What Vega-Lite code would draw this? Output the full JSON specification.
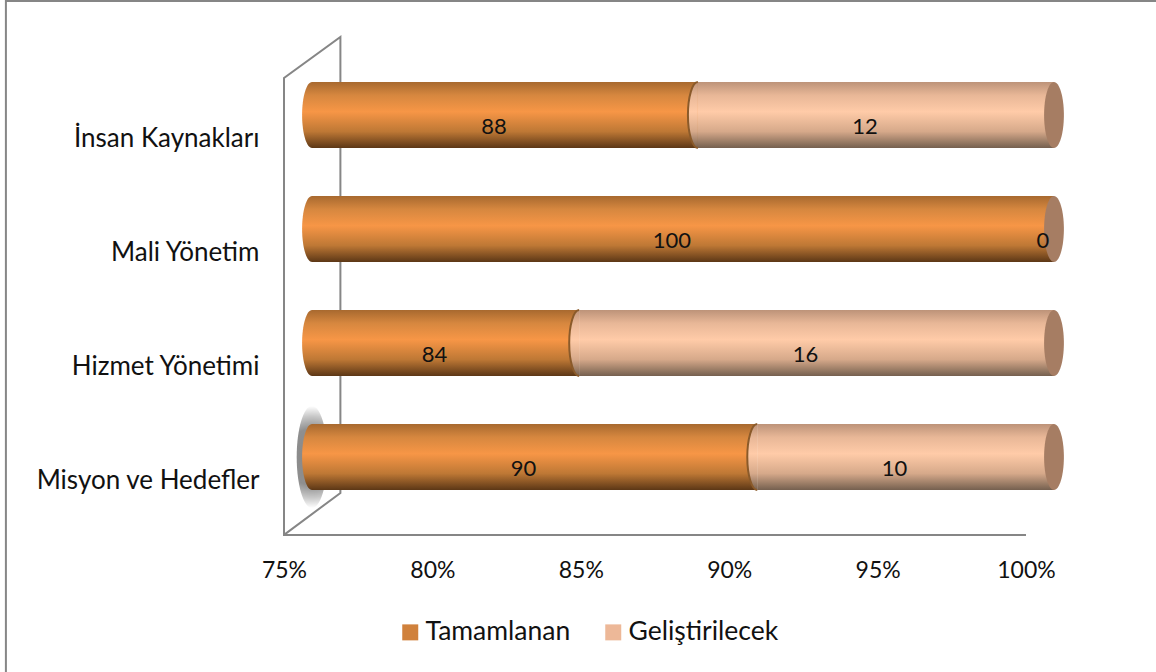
{
"$schema":"https://vega.github.io/schema/vega-lite/v6.json",
"width":1156,"height":672,"padding":0,"autosize":{"type":"none"},
"background":"white",
"config":{"view":{"stroke":null},"font":"Lato"},
"layer":[
{"data":{"values":[
{"path":"frame","o":1,"x":104.38,"y":116.85},{"path":"frame","o":2,"x":65.63,"y":116.85},{"path":"frame","o":3,"x":65.63,"y":-30},
{"path":"floor","o":1,"x":100,"y":0},{"path":"floor","o":2,"x":75,"y":0},{"path":"floor","o":3,"x":75,"y":100},{"path":"floor","o":4,"x":76.9,"y":108.97},{"path":"floor","o":5,"x":76.9,"y":9.19},{"path":"floor","o":6,"x":75,"y":0}
]},
"mark":{"type":"line","stroke":"#868686","strokeWidth":2,"clip":false,"strokeJoin":"miter"},
"encoding":{
"x":{"field":"x","type":"quantitative","scale":{"domain":[65.431,104.38],"nice":false,"zero":false},
"axis":{"values":[75,80,85,90,95,100],"labelExpr":"datum.value + '%'","title":null,"grid":false,"domain":false,"ticks":false,"offset":-137,"labelPadding":24,"labelFontSize":23,"labelColor":"#111111","labelFont":"Lato"}},
"y":{"field":"y","type":"quantitative","scale":{"domain":[-30,117.07],"nice":false,"zero":false},"axis":null},
"detail":{"field":"path"},
"order":{"field":"o","type":"quantitative"}
}},
{"data":{"values":[
{"kategori":"İnsan Kaynakları","seri":"Tamamlanan","deger":88},{"kategori":"İnsan Kaynakları","seri":"Geliştirilecek","deger":12},
{"kategori":"Mali Yönetim","seri":"Tamamlanan","deger":100},{"kategori":"Mali Yönetim","seri":"Geliştirilecek","deger":0},
{"kategori":"Hizmet Yönetimi","seri":"Tamamlanan","deger":84},{"kategori":"Hizmet Yönetimi","seri":"Geliştirilecek","deger":16},
{"kategori":"Misyon ve Hedefler","seri":"Tamamlanan","deger":90},{"kategori":"Misyon ve Hedefler","seri":"Geliştirilecek","deger":10}
]},
"transform":[
{"stack":"deger","groupby":["kategori"],"sort":[{"field":"seri","order":"descending"}],"as":["s0","s1"]},
{"calculate":"max(datum.s0,75)","as":"bas"},
{"calculate":"(datum.bas+datum.s1)/2","as":"orta"}
],
"encoding":{
"y":{"field":"kategori","type":"nominal","sort":["İnsan Kaynakları","Mali Yönetim","Hizmet Yönetimi","Misyon ve Hedefler"],
"scale":{"paddingInner":0.4211,"paddingOuter":0,"range":[82,490]},
"axis":{"title":null,"domain":false,"ticks":false,"grid":false,"offset":-259,"labelPadding":0,"labelOffset":24,"labelFontSize":26,"labelColor":"#111111","labelFont":"Lato","labelLimit":400}}
},
"layer":[
{"transform":[{"filter":"datum.kategori==='Misyon ve Hedefler' && datum.seri==='Tamamlanan'"}],
"mark":{"type":"point","filled":true,"opacity":1,"size":10400,"shape":"M0,-1 C0.166,-1 0.3,-0.552 0.3,0 C0.3,0.552 0.166,1 0,1 C-0.166,1 -0.3,0.552 -0.3,0 C-0.3,-0.552 -0.166,-1 0,-1 Z",
"fill":{"gradient":"radial","stops":[{"offset":0,"color":"#888888"},{"offset":0.55,"color":"#8f8f8f"},{"offset":0.8,"color":"#c8c8c8"},{"offset":1,"color":"#ffffff"}]}},
"encoding":{"x":{"datum":75,"type":"quantitative","scale":{"domain":[64.488,103.437],"nice":false,"zero":false},"axis":null}}},
{"transform":[{"filter":"datum.seri==='Tamamlanan'"}],
"mark":{"type":"point","filled":true,"opacity":1,"size":4356,"shape":"M0,-1 C0.166,-1 0.3,-0.552 0.3,0 C0.3,0.552 0.166,1 0,1 C-0.166,1 -0.3,0.552 -0.3,0 C-0.3,-0.552 -0.166,-1 0,-1 Z",
"fill":{"x1":0,"y1":0,"x2":0,"y2":1,"gradient":"linear","stops":[{"offset":0,"color":"#A8692F"},{"offset":0.2,"color":"#D6873F"},{"offset":0.45,"color":"#F79646"},{"offset":0.75,"color":"#BE7835"},{"offset":1,"color":"#5C3716"}]}},
"encoding":{"x":{"datum":75,"type":"quantitative","scale":{"domain":[64.488,103.437],"nice":false,"zero":false},"axis":null}}},
{"mark":{"type":"point","filled":true,"size":0,"opacity":1,"shape":"square"},
"encoding":{
"x":{"datum":75,"type":"quantitative","scale":{"domain":[64.488,103.437],"nice":false,"zero":false},"axis":null},
"fill":{"field":"seri","type":"nominal","scale":{"domain":["Tamamlanan","Geliştirilecek"],"range":["#D0813C","#EDB898"]},
"legend":{"orient":"none","legendX":397,"legendY":619,"direction":"horizontal","title":null,"symbolType":"square","symbolOpacity":1,"symbolSize":256,"symbolStrokeWidth":0,"labelFontSize":26.5,"labelColor":"#111111","labelFont":"Lato","labelOffset":2,"columnPadding":29,"labelLimit":300}}
}},
{"transform":[{"filter":"datum.seri==='Tamamlanan'"}],
"mark":{"type":"bar","fill":{"x1":0,"y1":0,"x2":0,"y2":1,"gradient":"linear","stops":[{"offset":0,"color":"#A8692F"},{"offset":0.2,"color":"#D6873F"},{"offset":0.45,"color":"#F79646"},{"offset":0.75,"color":"#BE7835"},{"offset":1,"color":"#5C3716"}]}},
"encoding":{"x":{"field":"bas","type":"quantitative","scale":{"domain":[64.488,103.437],"nice":false,"zero":false},"axis":null},"x2":{"field":"s1"}}},
{"transform":[{"filter":"datum.seri==='Geliştirilecek'"}],
"mark":{"type":"bar","fill":{"x1":0,"y1":0,"x2":0,"y2":1,"gradient":"linear","stops":[{"offset":0,"color":"#BD9379"},{"offset":0.2,"color":"#E8B797"},{"offset":0.45,"color":"#FFCBA8"},{"offset":0.75,"color":"#D6A98A"},{"offset":1,"color":"#75604F"}]}},
"encoding":{"x":{"field":"bas","type":"quantitative","scale":{"domain":[64.488,103.437],"nice":false,"zero":false},"axis":null},"x2":{"field":"s1"}}},
{"transform":[{"filter":"datum.seri==='Geliştirilecek' && datum.deger>0"}],
"mark":{"type":"point","filled":true,"opacity":1,"size":4356,"stroke":"#8A5A2A","strokeWidth":2,"strokeOpacity":1,"shape":"M0,-1 C-0.166,-1 -0.3,-0.552 -0.3,0 C-0.3,0.552 -0.166,1 0,1",
"fill":{"x1":0,"y1":0,"x2":0,"y2":1,"gradient":"linear","stops":[{"offset":0,"color":"#BD9379"},{"offset":0.2,"color":"#E8B797"},{"offset":0.45,"color":"#FFCBA8"},{"offset":0.75,"color":"#D6A98A"},{"offset":1,"color":"#75604F"}]}},
"encoding":{"x":{"field":"bas","type":"quantitative","scale":{"domain":[64.488,103.437],"nice":false,"zero":false},"axis":null}}},
{"transform":[{"filter":"datum.seri==='Tamamlanan'"}],
"mark":{"type":"point","filled":true,"opacity":1,"size":4356,"fill":"#A67D63","shape":"M0,-1 C0.166,-1 0.3,-0.552 0.3,0 C0.3,0.552 0.166,1 0,1 C-0.166,1 -0.3,0.552 -0.3,0 C-0.3,-0.552 -0.166,-1 0,-1 Z"},
"encoding":{"x":{"datum":100,"type":"quantitative","scale":{"domain":[64.488,103.437],"nice":false,"zero":false},"axis":null}}},
{"mark":{"type":"text","fontSize":22,"dx":-11,"dy":12,"color":"#111111","font":"Lato"},
"encoding":{"x":{"field":"orta","type":"quantitative","scale":{"domain":[64.488,103.437],"nice":false,"zero":false},"axis":null},"text":{"field":"deger","type":"quantitative"}}}
]}
],
"resolve":{"scale":{"x":"independent","y":"independent"}}
}
